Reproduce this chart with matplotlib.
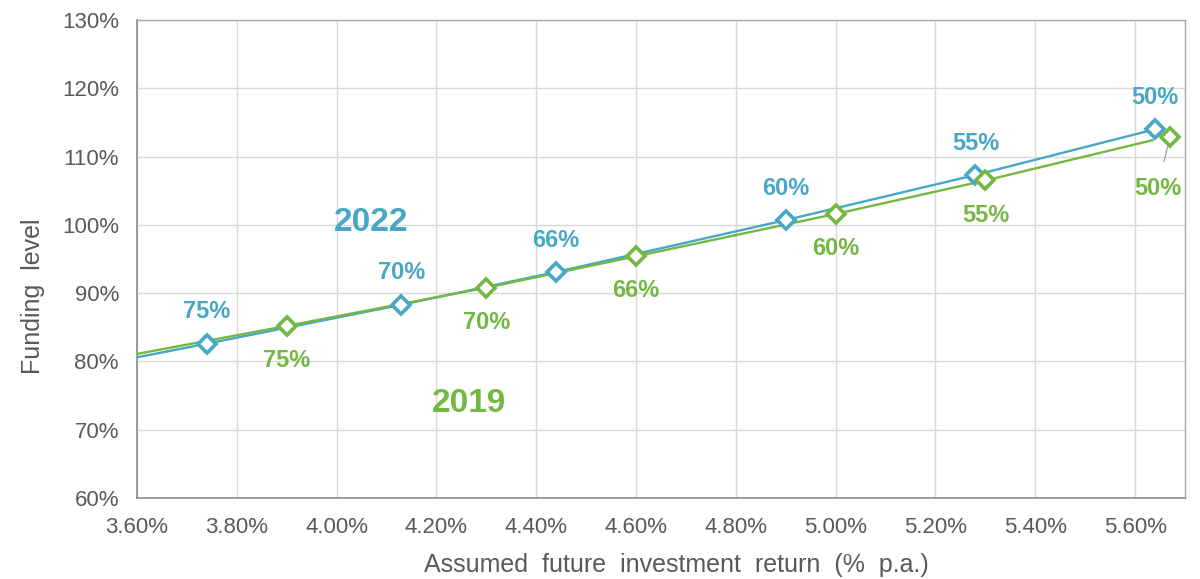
import matplotlib
matplotlib.use("Agg")
import matplotlib.pyplot as plt
from matplotlib.ticker import FuncFormatter, MultipleLocator

# ---- data ----
point_labels = ["75%", "70%", "66%", "60%", "55%", "50%"]

blue_x = [3.74, 4.13, 4.44, 4.90, 5.28, 5.64]
blue_y = [82.6, 88.3, 93.1, 100.7, 107.3, 114.0]

green_x = [3.90, 4.30, 4.60, 5.00, 5.30, 5.67]
green_y = [85.2, 90.8, 95.4, 101.6, 106.5, 112.9]

# connecting lines (extend to left edge; green stops short of last marker)
blue_line_x = [3.60, 3.74, 4.13, 4.44, 4.90, 5.28, 5.64]
blue_line_y = [80.6, 82.6, 88.3, 93.1, 100.7, 107.3, 114.0]
green_line_x = [3.60, 3.90, 4.30, 4.60, 5.00, 5.30, 5.635]
green_line_y = [81.1, 85.2, 90.8, 95.4, 101.6, 106.5, 112.4]

series_names = ["2022", "2019"]
series_name_pos = [(4.070, 100.3), (4.266, 73.8)]

x_min, x_max = 3.60, 5.70
y_min, y_max = 60, 130

BLUE = "#48A7C6"
GREEN = "#72B843"
TXT = "#595959"

plt.rcParams["font.family"] = ["Liberation Sans", "DejaVu Sans"]

fig = plt.figure(figsize=(12, 5.79), dpi=100)
ax = fig.add_axes([137 / 1200, 1 - 498 / 579, (1185 - 137) / 1200, (498 - 20) / 579])

ax.plot(blue_line_x, blue_line_y, color=BLUE, lw=1.7, zorder=3)
ax.plot(green_line_x, green_line_y, color=GREEN, lw=1.7, zorder=3)
ax.plot(blue_x, blue_y, ls="none", marker="D", ms=8.8, mfc="white",
        mec=BLUE, mew=2.6, zorder=4)
ax.plot(green_x, green_y, ls="none", marker="D", ms=8.8, mfc="white",
        mec=GREEN, mew=2.6, zorder=4)

for i, lab in enumerate(point_labels):
    ax.annotate(lab, (blue_x[i], blue_y[i]), xytext=(0, 23),
                textcoords="offset points", ha="center", va="center",
                color=BLUE, fontsize=17, fontweight="bold", zorder=5)
    if i < len(point_labels) - 1:
        ax.annotate(lab, (green_x[i], green_y[i]), xytext=(0, -25),
                    textcoords="offset points", ha="center", va="center",
                    color=GREEN, fontsize=17, fontweight="bold", zorder=5)
    else:
        ax.annotate(lab, (green_x[i], green_y[i]), xytext=(-9, -37),
                    textcoords="offset points", ha="center", va="center",
                    color=GREEN, fontsize=17, fontweight="bold", zorder=5,
                    arrowprops=dict(arrowstyle="-", color="#a6a6a6", lw=1,
                                    shrinkA=9, shrinkB=6))

ax.text(*series_name_pos[0], series_names[0], color=BLUE, fontsize=24,
        fontweight="bold", ha="center", va="center")
ax.text(*series_name_pos[1], series_names[1], color=GREEN, fontsize=24,
        fontweight="bold", ha="center", va="center")

ax.set_xlim(x_min, x_max)
ax.set_ylim(y_min, y_max)
ax.xaxis.set_major_locator(MultipleLocator(0.2))
ax.yaxis.set_major_locator(MultipleLocator(10))
ax.xaxis.set_major_formatter(FuncFormatter(lambda v, p: f"{v:.2f}%"))
ax.yaxis.set_major_formatter(FuncFormatter(lambda v, p: f"{v:.0f}%"))
ax.grid(True, color="#d9d9d9", lw=1)
ax.set_axisbelow(True)
ax.tick_params(axis="both", length=0, labelsize=16, colors=TXT)
ax.tick_params(axis="x", pad=13.5)
ax.tick_params(axis="y", pad=13)
for s in ["left", "bottom"]:
    ax.spines[s].set_color("#8c8c8c")
    ax.spines[s].set_linewidth(1.2)
for s in ["top", "right"]:
    ax.spines[s].set_color("#a6a6a6")
    ax.spines[s].set_linewidth(1.0)

fig.text(676 / 1200, 1 - 565 / 579, "Assumed  future  investment  return  (%  p.a.)",
         fontsize=18, color=TXT, ha="center", va="center")
fig.text(33 / 1200, 1 - 296 / 579, "Funding  level", fontsize=18, color=TXT,
         ha="center", va="center", rotation=90)

fig.savefig("out.png", dpi=100, facecolor="white")
